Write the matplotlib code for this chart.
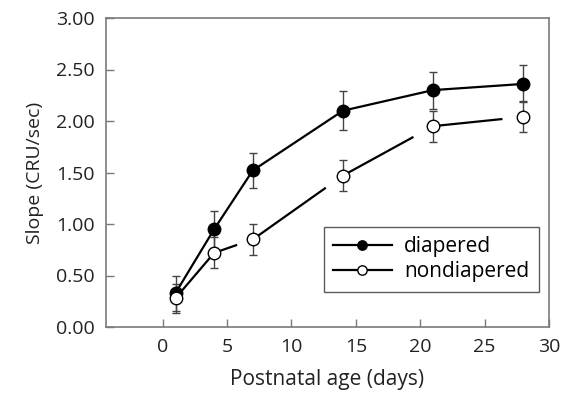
import matplotlib

matplotlib.use("Agg")
import matplotlib.pyplot as plt
import numpy as np

plt.rcParams["font.family"] = ["Open Sans", "DejaVu Sans"]

# postnatal age (days) and skin slope values for the two groups
days = [1, 4, 7, 14, 21, 28]
diapered = [0.33, 0.95, 1.52, 2.10, 2.30, 2.36]
diapered_err = [0.17, 0.18, 0.17, 0.19, 0.18, 0.18]
nondiapered = [0.28, 0.72, 0.85, 1.47, 1.95, 2.04]
nondiapered_err = [0.14, 0.15, 0.15, 0.15, 0.15, 0.15]
# the nondiapered trace stops short of each next point by this many days
nondiapered_gap = [0.0, 1.3, 1.4, 1.6, 1.7]

y_ticks = [0.0, 0.5, 1.0, 1.5, 2.0, 2.5, 3.0]
x_ticks = [0, 5, 10, 15, 20, 25, 30]

fig = plt.figure(figsize=(5.62, 4.0), dpi=100)
ax = fig.add_axes([106 / 562, 1 - 327 / 400, (549 - 106) / 562, (327 - 18) / 400])

grey = "#7a7a7a"
ax.errorbar(days, diapered, yerr=diapered_err, fmt="none", ecolor="#444444",
            elinewidth=1.0, capsize=3, capthick=1.0, zorder=2)
ax.errorbar(days, nondiapered, yerr=nondiapered_err, fmt="none", ecolor="#444444",
            elinewidth=1.0, capsize=3, capthick=1.0, zorder=2)

ax.plot(days, diapered, color="black", lw=1.6, marker="o", ms=9,
        mfc="black", mec="black", zorder=4, label="diapered")

# broken line for the nondiapered group
for i in range(len(days) - 1):
    x0, x1 = days[i], days[i + 1]
    y0, y1 = nondiapered[i], nondiapered[i + 1]
    xe = x1 - nondiapered_gap[i]
    ye = np.interp(xe, [x0, x1], [y0, y1])
    ax.plot([x0, xe], [y0, ye], color="black", lw=1.6, zorder=3)
ax.plot(days, nondiapered, ls="none", marker="o", ms=9, mfc="white",
        mec="black", mew=1.0, zorder=5)
ax.plot([], [], color="black", lw=1.6, marker="o", ms=9, mfc="white",
        mec="black", mew=1.0, label="nondiapered")

ax.set_xlim(-4.4, 30)
ax.set_ylim(0, 3.0)
ax.set_xticks(x_ticks)
ax.set_yticks(y_ticks)
ax.set_yticklabels([f"{v:.2f}" for v in y_ticks])
ax.tick_params(direction="in", length=6, width=1, color=grey, labelsize=14,
               labelcolor="#222222", pad=8)
for s in ax.spines.values():
    s.set_color(grey)
    s.set_linewidth(1.2)

ax.set_xlabel("Postnatal age (days)", fontsize=15, color="#222222", labelpad=9)
ax.set_ylabel("Slope (CRU/sec)", fontsize=14, color="#222222", labelpad=9)

leg = ax.legend(loc="lower right", bbox_to_anchor=(1.0, 0.08), fontsize=15,
                frameon=True, fancybox=False, handlelength=2.8, markerscale=0.75,
                borderpad=0.45, labelspacing=0.2, handletextpad=0.6)
leg.get_frame().set_edgecolor("#333333")
leg.get_frame().set_linewidth(1.0)

fig.savefig("out.png", dpi=100)
